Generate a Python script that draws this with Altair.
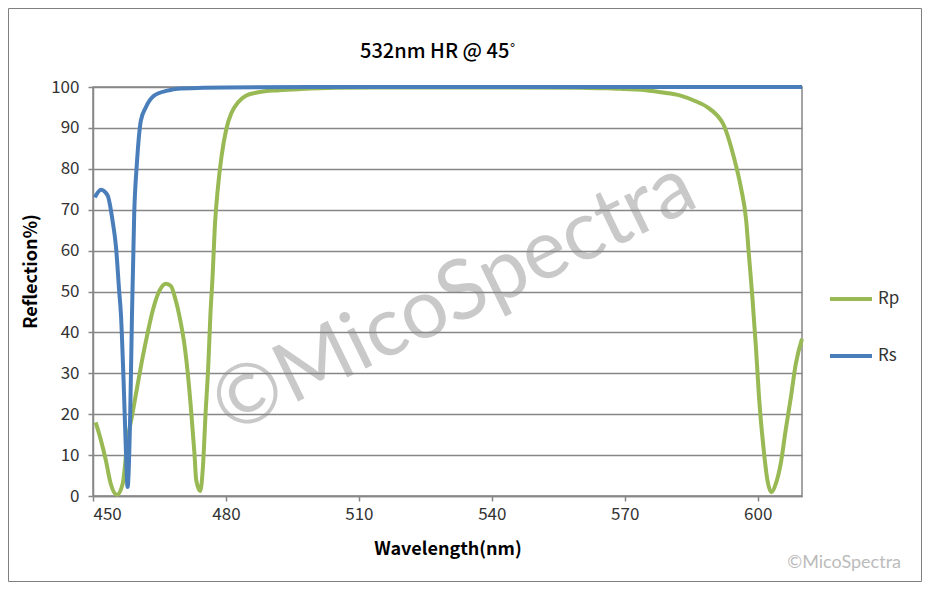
import altair as alt
import pandas as pd

# ---- data ----
rp_wl = [450.6, 451.8, 452.9, 454.0, 455.4, 456.7, 457.8, 458.9, 460.1, 461.2, 462.3, 463.5,
         465.0, 466.5, 467.6, 468.5, 469.6, 470.7, 471.4, 472.2, 472.9, 473.3, 474.2, 474.8,
         475.4, 476.0, 476.5, 477.0, 477.5, 478.2, 479.0, 480.1, 481.2, 482.7, 484.6, 487.3,
         492.0, 497.0, 505.0, 515.0, 530.0, 545.0, 560.0, 566.0, 570.0, 573.6, 578.1, 582.6,
         585.6, 588.6, 590.9, 592.2, 594.7, 596.2, 597.4, 598.0, 598.8, 599.6, 600.3, 601.3,
         602.2, 603.1, 604.1, 605.2, 606.3, 607.5, 608.6, 610.0]
rp_r = [18.0, 13.6, 8.7, 3.0, 0.3, 3.0, 13.6, 20.1, 27.4, 33.9, 39.7, 45.4,
        50.2, 51.9, 51.3, 48.5, 43.5, 36.5, 29.9, 20.1, 10.3, 3.8, 1.2, 7.0,
        20.1, 31.5, 44.5, 54.0, 66.0, 75.5, 83.0, 89.8, 93.6, 96.2, 97.9, 98.7,
        99.2, 99.5, 99.8, 99.9, 99.9, 99.9, 99.8, 99.7, 99.5, 99.3, 98.7, 97.9,
        96.7, 95.1, 93.0, 91.0, 82.5, 75.5, 67.4, 59.2, 48.6, 36.4, 24.2, 11.9,
        3.8, 0.9, 3.0, 7.9, 16.0, 24.2, 32.3, 38.4]

rs_wl = [450.4, 451.8, 453.3, 454.4, 455.2, 455.9, 456.3, 456.9, 457.4, 457.8, 458.4, 458.8,
         459.3, 459.9, 460.8, 461.9, 463.8, 466.8, 469.1, 475.0, 480.0, 500.0, 540.0, 580.0, 610.0]
rs_r = [73.0, 74.9, 73.5, 67.4, 60.8, 50.2, 44.5, 28.2, 11.9, 2.2, 20.1, 44.5,
        69.0, 81.2, 91.8, 95.0, 97.9, 99.1, 99.6, 99.8, 99.9, 100.0, 100.0, 100.0, 100.0]

series_names = ["Rp", "Rs"]
series_colors = ["#98B954", "#4A7EBB"]
x_ticks = [450, 480, 510, 540, 570, 600]
y_ticks = [0, 10, 20, 30, 40, 50, 60, 70, 80, 90, 100]

title_text = "532nm HR @ 45˚"
x_title = "Wavelength(nm)"
y_title = "Reflection%)"
watermark_text = "©MicoSpectra"
watermark_pos = [531.5, 48.5]

df = pd.concat([
    pd.DataFrame({"wl": rp_wl, "R": rp_r, "series": "Rp"}),
    pd.DataFrame({"wl": rs_wl, "R": rs_r, "series": "Rs"}),
], ignore_index=True)

label_font = "Noto Sans CJK SC"

x_enc = alt.X("wl:Q",
              scale=alt.Scale(domain=[450, 610], nice=False, zero=False),
              axis=alt.Axis(values=x_ticks, title=x_title, grid=False,
                            labelPadding=5, titlePadding=18))
y_enc = alt.Y("R:Q",
              scale=alt.Scale(domain=[0, 100], nice=False),
              axis=alt.Axis(values=y_ticks, title=y_title, grid=True,
                            labelPadding=9, titlePadding=10, titleY=184))

wm = alt.Chart(pd.DataFrame({"wl": [watermark_pos[0]], "R": [watermark_pos[1]],
                             "t": [watermark_text]})).mark_text(
    font="Lato", fontSize=83, angle=334, color="#888888", opacity=0.45,
    align="center", baseline="middle"
).encode(x=x_enc, y=y_enc, text="t:N")

lines = alt.Chart(df).mark_line(strokeWidth=4, interpolate="monotone").encode(
    x=x_enc, y=y_enc,
    color=alt.Color("series:N",
                    scale=alt.Scale(domain=series_names, range=series_colors),
                    legend=alt.Legend(title=None, orient="none", legendX=735, legendY=189,
                                      symbolType="stroke", symbolSize=1764,
                                      symbolStrokeWidth=4, rowPadding=26, padding=0,
                                      labelOffset=4, labelFontSize=17, labelFont=label_font,
                                      labelColor="#333333"))
)

one = pd.DataFrame({"t": [watermark_text], "title": [title_text]})
copyright_txt = alt.Chart(one).mark_text(
    font="Lato", fontSize=18, color="#bbbbbb", align="right", baseline="alphabetic"
).encode(x=alt.value(808), y=alt.value(481), text="t:N")

title_mark = alt.Chart(one).mark_text(
    font=label_font, fontSize=20, fontWeight=500, color="#000000",
    align="center", baseline="alphabetic"
).encode(x=alt.value(345), y=alt.value(-29), text="title:N")

border = alt.Chart(one).mark_rect(fillOpacity=0, stroke="#7f7f7f", strokeWidth=1).encode(
    x=alt.value(-84.5), x2=alt.value(828.5), y=alt.value(-78.5), y2=alt.value(494.5)
)

chart = alt.layer(wm, lines, copyright_txt, title_mark, border).properties(
    width=709, height=409,
    autosize=alt.AutoSizeParams(type="none"),
    padding={"left": 85, "top": 79, "right": 120, "bottom": 86},
).configure(background="white").configure_axis(
    gridColor="#878787", gridWidth=1.5, domainColor="#878787", domainWidth=1.5,
    tickColor="#878787", tickWidth=1.5, tickSize=5,
    labelFont=label_font, labelFontSize=17, labelColor="#333333",
    titleFont=label_font, titleFontSize=18, titleFontWeight="bold", titleColor="#000000",
).configure_view(stroke="#878787", strokeWidth=1.5)

chart.save("out.html", embed_options={"renderer": "svg", "actions": False})
